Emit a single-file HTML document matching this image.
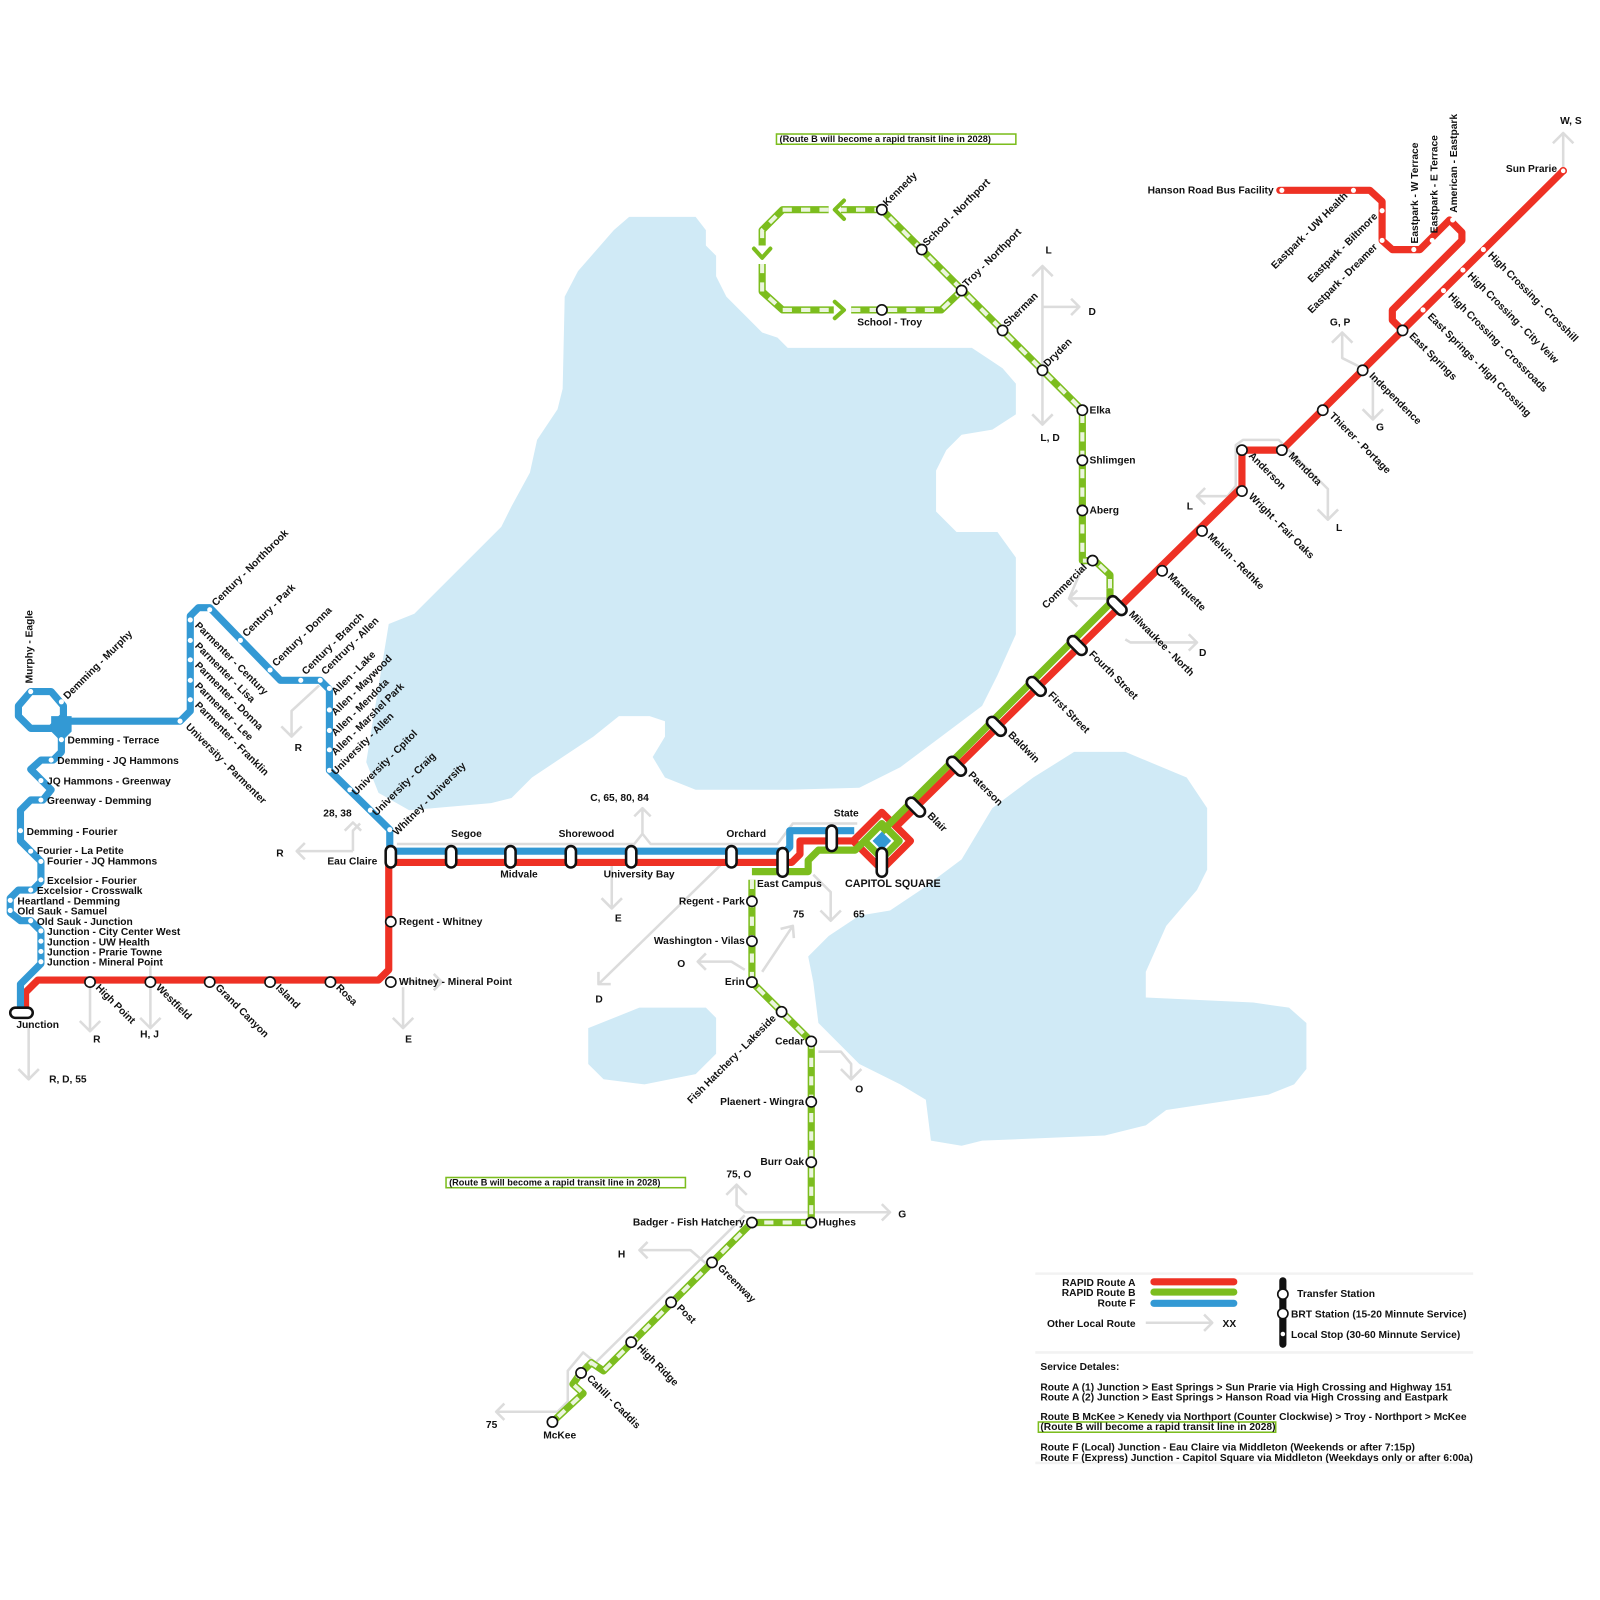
<!DOCTYPE html>
<html><head><meta charset="utf-8"><style>
html,body{margin:0;padding:0;background:#fff;}
svg{display:block;}
text{font-family:"Liberation Sans",Arial,sans-serif;font-weight:bold;font-size:10px;fill:#111;}
</style></head><body>
<svg width="1600" height="1600" viewBox="0 0 1564 1564" xmlns="http://www.w3.org/2000/svg">
<!-- water -->
<g fill="#d0eaf6">
<polygon points="615,212 680,212 690,225 690,240 700,250 700,270 710,290 745,325 760,330 770,340 950,340 965,350 980,360 993,375 993,405 970,420 940,425 925,440 915,460 915,500 935,520 975,520 993,545 993,620 975,660 960,690 920,720 880,750 840,770 770,772 680,772 650,760 638,740 650,720 650,705 635,700 605,700 580,720 550,740 520,760 500,780 480,785 400,792 370,775 358,745 362,720 380,610 405,600 490,515 500,495 518,462 525,430 545,400 550,380 552,290 565,265 600,225"/>
<polygon points="790,935 810,915 840,895 870,890 900,870 940,840 970,790 1010,760 1050,735 1100,735 1160,760 1180,790 1180,850 1170,870 1140,905 1120,950 1120,975 1225,980 1260,985 1277,1000 1277,1045 1265,1060 1240,1070 1140,1085 1120,1100 1080,1110 960,1115 940,1120 910,1115 905,1075 880,1060 840,1040 820,1020 800,1000 795,960"/>
<polygon points="575,1005 625,985 690,985 700,995 700,1030 680,1050 630,1060 590,1055 575,1040"/>
</g>
<!-- local gray routes -->
<g fill="none" stroke="#dcdcdc" stroke-width="2.5" stroke-linejoin="round">
<path d="M28,1000 V1055 M18,1045 L28,1055 L38,1045"/>
<path d="M88,965 V1008 M78,998 L88,1008 L98,998"/>
<path d="M147,940 V1005 M137,995 L147,1005 L157,995"/>
<path d="M394,965 V1005 M384,995 L394,1005 L404,995 M394,960 H432 M424,952 L432,960 L424,968"/>
<path d="M345,832 H290 M298,824 L290,832 L298,840 M345,832 V812 L352,805 M337,812 L345,804 L353,812"/>
<path d="M388,825 H620 L628,815 L636,825 H760 L775,805 H838 M628,815 V790 M620,798 L628,790 L636,798"/>
<path d="M598,845 V888 M588,878 L598,888 L608,878"/>
<path d="M312,670 L285,695 V720 M275,710 L285,720 L295,710"/>
<path d="M705,845 L585,962 M585,950 L585,962 L597,962" />
<path d="M745,950 L775,905 M763,908 L775,905 L776,917"/>
<path d="M728,948 L715,940 H682 M690,932 L682,940 L690,948"/>
<path d="M795,855 L812,872 V900 M802,890 L812,900 L822,890"/>
<path d="M800,1028 H822 L832,1040 V1055 M822,1045 L832,1055 L842,1045"/>
<path d="M720,1160 V1178 L728,1185 H870 M862,1177 L870,1185 L862,1193 M710,1168 L720,1158 L730,1168"/>
<path d="M690,1235 L675,1222 H625 M633,1214 L625,1222 L633,1230"/>
<path d="M728,1188 L582,1332 L570,1322 L555,1340 V1370 L545,1380 H485 M493,1372 L485,1380 L493,1388"/>
<path d="M1019,362 V260 M1009,270 L1019,260 L1029,270 M1019,300 H1055 M1047,292 L1055,300 L1047,308 M1019,362 V415 M1009,405 L1019,415 L1029,405"/>
<path d="M1060,550 L1045,585 H1082 M1053,577 L1045,585 L1053,593"/>
<path d="M1100,625 L1105,628 H1170 M1162,620 L1170,628 L1162,636"/>
<path d="M1208,440 V475 L1200,485 H1170 M1178,477 L1170,485 L1178,493"/>
<path d="M1208,440 V435 L1215,430 H1250 L1298,478 V508 M1288,498 L1298,508 L1308,498"/>
<path d="M1332,360 L1312,350 V325 M1302,335 L1312,325 L1322,335 M1342,368 V410 M1332,400 L1342,410 L1352,400"/>
<path d="M1528,167 V130 M1518,140 L1528,130 L1538,140"/>
<path d="M1120,1293 H1185 M1177,1285 L1185,1293 L1177,1301"/>
<path d="M1012,1245 H1440 M1012,1322 H1440 M1012,1430 H1440" stroke="#f2f2f2"/>
</g>
<!-- RED route A -->
<g fill="none" stroke="#ee3124" stroke-width="7" stroke-linejoin="round" stroke-linecap="round">
<path d="M25,985 V970 L37,958 H370 L380,948 V843 H774 L782,835 V822 H834"/>
<polygon points="862,794 890,822 862,850 834,822"/>
<path d="M876,808 L1214,476 V440 H1253 L1371,323 L1528,167"/>
<path d="M1371,323 L1361,313 V303 L1429,235 V227 L1417,215 L1388,244 H1361 L1351,235 V197 L1339,186 H1251"/>
</g>
<!-- GREEN route B -->
<g fill="none" stroke-linejoin="round">
<g stroke="#7cbd1e" stroke-width="7">
<path d="M1085,575 V590 L873,802 L862,813"/>
<polygon points="862,805 879,822 862,839 845,822" />
<path d="M845,822 L836,831 H800 L790,841 V852 H735"/>
</g>
<g id="dash">
<path d="M1085,575 V562 L1070,548 H1058 V401 L862,205 H822 M810,205 H765 L745,225 V240 M745,258 V285 L765,303 H815 M832,303 H920 L940,284"/>
<path d="M735,860 V960 L793,1018 V1195 H735 L590,1340 L578,1332 L567,1343 L560,1353 L570,1362 L540,1390"/>
</g>
</g>
<g fill="none" stroke="#7cbd1e" stroke-width="7" stroke-linejoin="round">
<path d="M1085,575 V562 L1070,548 H1058 V401 L862,205 H822 M810,205 H765 L745,225 V240 M745,258 V285 L765,303 H815 M832,303 H920 L940,284"/>
<path d="M735,860 V960 L793,1018 V1195 H735 L590,1340 L578,1332 L567,1343 L560,1353 L570,1362 L540,1390"/>
</g>
<g fill="none" stroke="#fff" stroke-width="4" stroke-dasharray="9 9" stroke-linejoin="round" opacity="0.85">
<path d="M1085,575 V562 L1070,548 H1058 V401 L862,205 H822 M810,205 H765 L745,225 V240 M745,258 V285 L765,303 H815 M832,303 H920 L940,284"/>
<path d="M735,860 V960 L793,1018 V1195 H735 L590,1340 L578,1332 L567,1343 L560,1353 L570,1362 L540,1390"/>
</g>
<g fill="none" stroke="#7cbd1e" stroke-width="4" stroke-linecap="round" stroke-linejoin="round">
<path d="M825,196 L816,205 L825,214"/>
<path d="M737,243 L745,252 L753,243"/>
<path d="M816,295 L825,303 L816,311"/>
</g>
<!-- BLUE route F -->
<g fill="none" stroke="#3399d4" stroke-width="7" stroke-linejoin="round">
<path d="M30,676 L50,676 L62,690 L62,700 L50,712 L30,712 L18,700 L18,690 Z"/>
<path d="M20,990 V962 L40,942 V910 L30,900 H20 L10,892 V878 L18,870 H32 L40,862 V842 L20,822 V792 L30,782 H42 L50,772 L30,752 L40,743 H52 L60,735 V705 H176 L186,695 V602 L194,594 H205 L274,665 H313 L322,674 V753 L381,811 V832 H768 L772,828 V812 H835"/>
</g>
<polygon points="50,700 70,700 70,715 60,725 50,715" fill="#3399d4"/>
<polygon points="862,815 869,822 862,829 855,822" fill="#3399d4" stroke="#3399d4" stroke-width="3"/>
<!-- small local stop dots -->
<g fill="#fff">
<circle cx="30" cy="676" r="2.5"/><circle cx="60" cy="686" r="2.5"/>
<circle cx="60" cy="723" r="2.5"/><circle cx="50" cy="743" r="2.5"/><circle cx="40" cy="763" r="2.5"/><circle cx="40" cy="782" r="2.5"/>
<circle cx="20" cy="812" r="2.5"/><circle cx="30" cy="832" r="2.5"/><circle cx="40" cy="842" r="2.5"/><circle cx="40" cy="860" r="2.5"/>
<circle cx="30" cy="870" r="2.5"/><circle cx="10" cy="880" r="2.5"/><circle cx="10" cy="890" r="2.5"/><circle cx="30" cy="900" r="2.5"/>
<circle cx="40" cy="910" r="2.5"/><circle cx="40" cy="920" r="2.5"/><circle cx="40" cy="930" r="2.5"/><circle cx="40" cy="940" r="2.5"/>
<circle cx="176" cy="705" r="2.5"/>
<circle cx="186" cy="606" r="2.5"/><circle cx="186" cy="626" r="2.5"/><circle cx="186" cy="645" r="2.5"/><circle cx="186" cy="665" r="2.5"/><circle cx="186" cy="684" r="2.5"/>
<circle cx="205" cy="596" r="2.5"/><circle cx="235" cy="626" r="2.5"/><circle cx="264" cy="655" r="2.5"/><circle cx="294" cy="665" r="2.5"/><circle cx="313" cy="665" r="2.5"/>
<circle cx="322" cy="673" r="2.5"/><circle cx="322" cy="694" r="2.5"/><circle cx="322" cy="714" r="2.5"/><circle cx="322" cy="733" r="2.5"/><circle cx="322" cy="753" r="2.5"/>
<circle cx="342" cy="772" r="2.5"/><circle cx="362" cy="792" r="2.5"/><circle cx="381" cy="811" r="2.5"/>
<circle cx="1253" cy="186" r="2.5"/><circle cx="1323" cy="186" r="2.5"/><circle cx="1351" cy="206" r="2.5"/><circle cx="1351" cy="235" r="2.5"/><circle cx="1382" cy="244" r="2.5"/><circle cx="1400" cy="235" r="2.5"/><circle cx="1420" cy="215" r="2.5"/>
<circle cx="1391" cy="303" r="2.5"/><circle cx="1411" cy="284" r="2.5"/><circle cx="1430" cy="264" r="2.5"/><circle cx="1450" cy="244" r="2.5"/>
</g>
<circle cx="1528" cy="167" r="3" fill="#fff" stroke="#ee3124" stroke-width="1.5"/>
<!-- BRT stations -->
<g fill="#fff" stroke="#111" stroke-width="1.6">
<circle cx="88" cy="960" r="5"/><circle cx="147" cy="960" r="5"/><circle cx="205" cy="960" r="5"/><circle cx="264" cy="960" r="5"/><circle cx="323" cy="960" r="5"/><circle cx="382" cy="960" r="5"/><circle cx="382" cy="901" r="5"/>
<circle cx="1136" cy="558" r="5"/><circle cx="1175" cy="519" r="5"/><circle cx="1214" cy="480" r="5"/><circle cx="1214" cy="440" r="5"/><circle cx="1253" cy="440" r="5"/><circle cx="1293" cy="401" r="5"/><circle cx="1332" cy="362" r="5"/><circle cx="1371" cy="323" r="5"/>
<circle cx="862" cy="205" r="5"/><circle cx="901" cy="244" r="5"/><circle cx="940" cy="284" r="5"/><circle cx="980" cy="323" r="5"/><circle cx="1019" cy="362" r="5"/><circle cx="1058" cy="401" r="5"/><circle cx="1058" cy="450" r="5"/><circle cx="1058" cy="499" r="5"/><circle cx="1068" cy="548" r="5"/><circle cx="862" cy="303" r="5"/>
<circle cx="735" cy="881" r="5"/><circle cx="735" cy="920" r="5"/><circle cx="735" cy="960" r="5"/><circle cx="764" cy="989" r="5"/><circle cx="793" cy="1018" r="5"/><circle cx="793" cy="1077" r="5"/><circle cx="793" cy="1136" r="5"/><circle cx="793" cy="1195" r="5"/><circle cx="735" cy="1195" r="5"/>
<circle cx="696" cy="1234" r="5"/><circle cx="656" cy="1273" r="5"/><circle cx="617" cy="1312" r="5"/><circle cx="568" cy="1342" r="5"/><circle cx="540" cy="1390" r="5"/>
</g>
<!-- transfer pills -->
<g fill="#fff" stroke="#111" stroke-width="2.5">
<rect x="10" y="985" width="22" height="10" rx="5"/>
<rect x="377" y="827" width="10" height="21" rx="5"/>
<rect x="436" y="827" width="10" height="21" rx="5"/>
<rect x="494" y="827" width="10" height="21" rx="5"/>
<rect x="553" y="827" width="10" height="21" rx="5"/>
<rect x="612" y="827" width="10" height="21" rx="5"/>
<rect x="710" y="827" width="10" height="21" rx="5"/>
<rect x="760" y="829" width="10" height="28" rx="5"/>
<rect x="808" y="807" width="10" height="25" rx="5"/>
<rect x="857" y="829" width="10" height="28" rx="5"/>
<g transform="translate(895,789) rotate(-45)"><rect x="-5" y="-11" width="10" height="22" rx="5"/></g>
<g transform="translate(935,749) rotate(-45)"><rect x="-5" y="-11" width="10" height="22" rx="5"/></g>
<g transform="translate(974,710) rotate(-45)"><rect x="-5" y="-11" width="10" height="22" rx="5"/></g>
<g transform="translate(1013,671) rotate(-45)"><rect x="-5" y="-11" width="10" height="22" rx="5"/></g>
<g transform="translate(1053,631) rotate(-45)"><rect x="-5" y="-11" width="10" height="22" rx="5"/></g>
<g transform="translate(1092,592) rotate(-45)"><rect x="-5" y="-11" width="10" height="22" rx="5"/></g>
</g>
<!-- horizontal labels -->
<g>
<text x="16" y="1005">Junction</text>
<text x="48" y="1058">R, D, 55</text>
<text x="91" y="1019">R</text>
<text x="137" y="1014">H, J</text>
<text x="396" y="1019">E</text>
<text x="390" y="963">Whitney - Mineral Point</text>
<text x="390" y="904">Regent - Whitney</text>
<text x="320" y="845">Eau Claire</text>
<text x="270" y="837">R</text>
<text x="316" y="798">28, 38</text>
<text x="288" y="734">R</text>
<text x="441" y="818">Segoe</text>
<text x="489" y="858">Midvale</text>
<text x="546" y="818">Shorewood</text>
<text x="590" y="858">University Bay</text>
<text x="577" y="783">C, 65, 80, 84</text>
<text x="601" y="901">E</text>
<text x="710" y="818">Orchard</text>
<text x="740" y="867">East Campus</text>
<text x="815" y="798">State</text>
<text x="826" y="867" style="font-size:10.5px">CAPITOL SQUARE</text>
<text x="728" y="884" text-anchor="end">Regent - Park</text>
<text x="728" y="923" text-anchor="end">Washington - Vilas</text>
<text x="728" y="963" text-anchor="end">Erin</text>
<text x="786" y="1021" text-anchor="end">Cedar</text>
<text x="786" y="1080" text-anchor="end">Plaenert - Wingra</text>
<text x="786" y="1139" text-anchor="end">Burr Oak</text>
<text x="800" y="1198">Hughes</text>
<text x="728" y="1198" text-anchor="end">Badger - Fish Hatchery</text>
<text x="775" y="897">75</text>
<text x="834" y="897">65</text>
<text x="662" y="945">O</text>
<text x="582" y="980">D</text>
<text x="836" y="1068">O</text>
<text x="710" y="1151">75, O</text>
<text x="878" y="1190">G</text>
<text x="604" y="1229">H</text>
<text x="475" y="1396">75</text>
<text x="531" y="1406">McKee</text>
<text x="838" y="318">School - Troy</text>
<text x="1065" y="404">Elka</text>
<text x="1065" y="453">Shlimgen</text>
<text x="1065" y="502">Aberg</text>
<text x="1022" y="248">L</text>
<text x="1064" y="308">D</text>
<text x="1017" y="431">L, D</text>
<text x="1172" y="641">D</text>
<text x="1160" y="498">L</text>
<text x="1306" y="519">L</text>
<text x="1300" y="318">G, P</text>
<text x="1345" y="421">G</text>
<text x="1525" y="121">W, S</text>
<text x="1522" y="168" text-anchor="end">Sun Prarie</text>
<text x="1245" y="189" text-anchor="end">Hanson Road Bus Facility</text>
<text x="66" y="727">Demming - Terrace</text>
<text x="56" y="747">Demming - JQ Hammons</text>
<text x="46" y="767">JQ Hammons - Greenway</text>
<text x="46" y="786">Greenway - Demming</text>
<text x="26" y="816">Demming - Fourier</text>
<text x="36" y="835">Fourier - La Petite</text>
<text x="46" y="845">Fourier - JQ Hammons</text>
<text x="46" y="864">Excelsior - Fourier</text>
<text x="36" y="874">Excelsior - Crosswalk</text>
<text x="17" y="884">Heartland - Demming</text>
<text x="17" y="894">Old Sauk - Samuel</text>
<text x="36" y="904">Old Sauk - Junction</text>
<text x="46" y="914">Junction - City Center West</text>
<text x="46" y="924">Junction - UW Health</text>
<text x="46" y="934">Junction - Prarie Towne</text>
<text x="46" y="944">Junction - Mineral Point</text>
</g>
<!-- rotated +45 labels -->
<g>
<text transform="translate(93,966) rotate(45)">High Point</text>
<text transform="translate(152,966) rotate(45)">Westfield</text>
<text transform="translate(210,966) rotate(45)">Grand Canyon</text>
<text transform="translate(269,966) rotate(45)">Island</text>
<text transform="translate(328,966) rotate(45)">Rosa</text>
<text transform="translate(906,798) rotate(45)">Blair</text>
<text transform="translate(946,758) rotate(45)">Paterson</text>
<text transform="translate(985,719) rotate(45)">Baldwin</text>
<text transform="translate(1024,680) rotate(45)">First Street</text>
<text transform="translate(1064,640) rotate(45)">Fourth Street</text>
<text transform="translate(1103,601) rotate(45)">Milwaukee - North</text>
<text transform="translate(1141,564) rotate(45)">Marquette</text>
<text transform="translate(1180,525) rotate(45)">Melvin - Rethke</text>
<text transform="translate(1220,486) rotate(45)">Wright - Fair Oaks</text>
<text transform="translate(1220,446) rotate(45)">Anderson</text>
<text transform="translate(1259,446) rotate(45)">Mendota</text>
<text transform="translate(1299,407) rotate(45)">Thierer - Portage</text>
<text transform="translate(1338,368) rotate(45)">Independence</text>
<text transform="translate(1377,329) rotate(45)">East Springs</text>
<text transform="translate(1395,310) rotate(45)">East Springs - High Crossing</text>
<text transform="translate(1415,290) rotate(45)">High Crossing - Crossroads</text>
<text transform="translate(1434,270) rotate(45)">High Crossing - City Veiw</text>
<text transform="translate(1454,250) rotate(45)">High Crossing - Crosshill</text>
<text transform="translate(701,1240) rotate(45)">Greenway</text>
<text transform="translate(661,1279) rotate(45)">Post</text>
<text transform="translate(622,1318) rotate(45)">High Ridge</text>
<text transform="translate(573,1348) rotate(45)">Cahill - Caddis</text>
<text transform="translate(190,612) rotate(45)">Parmenter - Century</text>
<text transform="translate(190,632) rotate(45)">Parmenter - Lisa</text>
<text transform="translate(190,651) rotate(45)">Parmenter - Donna</text>
<text transform="translate(190,671) rotate(45)">Parmenter - Lee</text>
<text transform="translate(190,690) rotate(45)">Parmenter - Franklin</text>
<text transform="translate(181,711) rotate(45)">University - Parmenter</text>
</g>
<!-- rotated -45 labels -->
<g>
<text transform="translate(867,202) rotate(-45)">Kennedy</text>
<text transform="translate(906,241) rotate(-45)">School - Northport</text>
<text transform="translate(945,281) rotate(-45)">Troy - Northport</text>
<text transform="translate(985,320) rotate(-45)">Sherman</text>
<text transform="translate(1024,359) rotate(-45)">Dryden</text>
<text transform="translate(1063,555) rotate(-45)" text-anchor="end">Commercial</text>
<text transform="translate(759,996) rotate(-45)" text-anchor="end">Fish Hatchery - Lakeside</text>
<text transform="translate(1318,192) rotate(-45)" text-anchor="end">Eastpark - UW Health</text>
<text transform="translate(1347,212) rotate(-45)" text-anchor="end">Eastpark - Biltmore</text>
<text transform="translate(1347,242) rotate(-45)" text-anchor="end">Eastpark - Dreamer</text>
<text transform="translate(66,684) rotate(-45)">Demming - Murphy</text>
<text transform="translate(211,593) rotate(-45)">Century - Northbrook</text>
<text transform="translate(241,623) rotate(-45)">Century - Park</text>
<text transform="translate(270,652) rotate(-45)">Century - Donna</text>
<text transform="translate(299,660) rotate(-45)">Century - Branch</text>
<text transform="translate(318,660) rotate(-45)">Centrury - Allen</text>
<text transform="translate(328,680) rotate(-45)">Allen - Lake</text>
<text transform="translate(328,700) rotate(-45)">Allen - Maywood</text>
<text transform="translate(328,720) rotate(-45)">Allen - Mendota</text>
<text transform="translate(328,739) rotate(-45)">Allen - Marshel Park</text>
<text transform="translate(328,758) rotate(-45)">University - Allen</text>
<text transform="translate(348,778) rotate(-45)">University - Cpitol</text>
<text transform="translate(368,798) rotate(-45)">University - Craig</text>
<text transform="translate(388,817) rotate(-45)">Whitney - University</text>
<text transform="translate(32,668) rotate(-90)">Murphy - Eagle</text>
<text transform="translate(1386,238) rotate(-90)">Eastpark - W Terrace</text>
<text transform="translate(1405,228) rotate(-90)">Eastpark - E Terrace</text>
<text transform="translate(1424,208) rotate(-90)">American - Eastpark</text>
</g>
<!-- notes -->
<rect x="759" y="131" width="234" height="10" fill="none" stroke="#7cbd1e" stroke-width="1.5"/>
<text x="762" y="139" style="font-size:9px">(Route B will become a rapid transit line in 2028)</text>
<rect x="436" y="1151" width="234" height="10" fill="none" stroke="#7cbd1e" stroke-width="1.5"/>
<text x="439" y="1159" style="font-size:9px">(Route B will become a rapid transit line in 2028)</text>
<!-- legend -->
<g>
<text x="1110" y="1257" text-anchor="end">RAPID Route A</text>
<text x="1110" y="1267" text-anchor="end">RAPID Route B</text>
<text x="1110" y="1277" text-anchor="end">Route F</text>
<text x="1110" y="1297" text-anchor="end">Other Local Route</text>
<text x="1195" y="1297">XX</text>
<line x1="1128" y1="1253" x2="1206" y2="1253" stroke="#ee3124" stroke-width="7" stroke-linecap="round"/>
<line x1="1128" y1="1263" x2="1206" y2="1263" stroke="#7cbd1e" stroke-width="7" stroke-linecap="round"/>
<line x1="1128" y1="1274" x2="1206" y2="1274" stroke="#3399d4" stroke-width="7" stroke-linecap="round"/>
<line x1="1254" y1="1252" x2="1254" y2="1314" stroke="#111" stroke-width="7" stroke-linecap="round"/>
<circle cx="1254" cy="1265" r="5" fill="#fff" stroke="#111" stroke-width="1.6"/>
<circle cx="1254" cy="1284" r="5" fill="#fff" stroke="#111" stroke-width="1.6"/>
<circle cx="1254" cy="1304" r="2.2" fill="#fff"/>
<text x="1268" y="1268">Transfer Station</text>
<text x="1262" y="1288">BRT Station (15-20 Minnute Service)</text>
<text x="1262" y="1308">Local Stop (30-60 Minnute Service)</text>
<text x="1017" y="1339">Service Detales:</text>
<text x="1017" y="1359">Route A (1) Junction &gt; East Springs &gt; Sun Prarie via High Crossing and Highway 151</text>
<text x="1017" y="1369">Route A (2) Junction &gt; East Springs &gt; Hanson Road via High Crossing and Eastpark</text>
<text x="1017" y="1388">Route B McKee &gt; Kenedy via Northport (Counter Clockwise) &gt; Troy - Northport &gt; McKee</text>
<rect x="1015" y="1390" width="232" height="10" fill="none" stroke="#7cbd1e" stroke-width="1.5"/>
<text x="1017" y="1398">(Route B will become a rapid transit line in 2028)</text>
<text x="1017" y="1418">Route F (Local) Junction - Eau Claire via Middleton (Weekends or after 7:15p)</text>
<text x="1017" y="1428">Route F (Express) Junction - Capitol Square via Middleton (Weekdays only or after 6:00a)</text>
</g>
</svg>
</body></html>
